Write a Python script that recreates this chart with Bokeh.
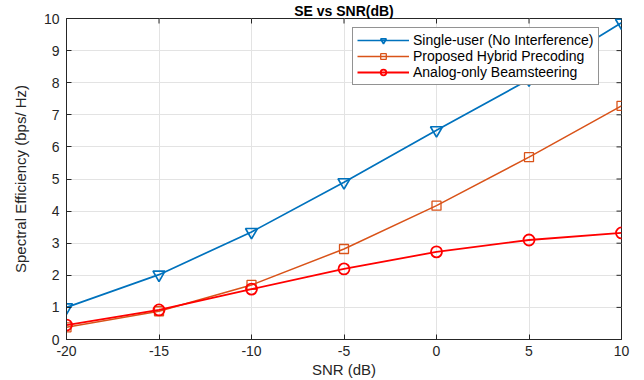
import math
from bokeh.plotting import figure
from bokeh.models import Range1d, Title
from bokeh.embed import file_html
from bokeh.resources import INLINE

snr = [-20, -15, -10, -5, 0, 5, 10]
single_user = [1.0, 2.02, 3.35, 4.9, 6.52, 8.1, 9.87]
hybrid = [0.38, 0.88, 1.7, 2.82, 4.17, 5.68, 7.28]
analog = [0.45, 0.92, 1.57, 2.2, 2.73, 3.1, 3.32]

x_ticks = [-20, -15, -10, -5, 0, 5, 10]
y_ticks = list(range(0, 11))

FONT = "Liberation Sans"
AXC = "#262626"

p = figure(width=644, height=380, output_backend="svg", toolbar_location=None,
           x_range=Range1d(-20, 10), y_range=Range1d(0, 10),
           min_border_left=66, min_border_right=23, min_border_bottom=0, min_border_top=0)
t = Title(text="SE vs SNR(dB)", align="center", text_font=FONT, text_font_size="14px",
          text_font_style="bold", text_color="#000000", standoff=0, offset=0)
p.add_layout(t, "above")

p.outline_line_color = AXC
p.outline_line_width = 1
p.background_fill_color = "white"
p.border_fill_color = "white"

for ax in (p.xaxis[0], p.yaxis[0]):
    ax.major_tick_in = 5
    ax.major_tick_out = 0
    ax.minor_tick_in = 0
    ax.minor_tick_out = 0
    ax.axis_line_color = AXC
    ax.major_tick_line_color = AXC
    ax.major_label_text_font = FONT
    ax.major_label_text_font_size = "14px"
    ax.major_label_text_color = AXC
    ax.axis_label_text_font = FONT
    ax.axis_label_text_font_size = "15px"
    ax.axis_label_text_font_style = "normal"
    ax.axis_label_text_color = AXC

p.xaxis[0].ticker = x_ticks
p.yaxis[0].ticker = y_ticks
p.xaxis[0].major_label_overrides = {v: str(v) for v in x_ticks}
p.xaxis[0].axis_label = "SNR (dB)"
p.yaxis[0].axis_label = "Spectral Efficiency (bps/ Hz)"
p.xaxis[0].major_label_standoff = 6
p.xaxis[0].axis_label_standoff = 2
p.yaxis[0].major_label_standoff = 7
p.yaxis[0].axis_label_standoff = 12

# inward tick marks on the top and right edges (box style)
p.ray(x=x_ticks, y=[10] * len(x_ticks), length=5, length_units="screen",
      angle=-math.pi / 2, line_color=AXC, line_width=1)
p.ray(x=[10] * len(y_ticks), y=y_ticks, length=5, length_units="screen",
      angle=math.pi, line_color=AXC, line_width=1)

p.xgrid.ticker = x_ticks
p.ygrid.ticker = y_ticks
p.grid.grid_line_color = "#e3e3e3"
p.grid.grid_line_width = 1

BLUE = "#0072BD"
ORANGE = "#D95319"
RED = "#FF0000"

p.line(snr, single_user, color=BLUE, line_width=1.7, legend_label="Single-user (No Interference)")
p.scatter(snr, single_user, marker="inverted_triangle", size=12, line_color=BLUE, fill_alpha=0,
          line_width=1.7, legend_label="Single-user (No Interference)")
p.line(snr, hybrid, color=ORANGE, line_width=1.5, legend_label="Proposed Hybrid Precoding")
p.scatter(snr, hybrid, marker="square", size=9, line_color=ORANGE, fill_alpha=0,
          line_width=1.3, legend_label="Proposed Hybrid Precoding")
p.line(snr, analog, color=RED, line_width=1.8, legend_label="Analog-only Beamsteering")
p.scatter(snr, analog, marker="circle", size=11, line_color=RED, fill_alpha=0,
          line_width=1.8, legend_label="Analog-only Beamsteering")

lg = p.legend[0]
lg.location = (286, 254)
lg.margin = 0
lg.padding = 4
lg.spacing = 0
lg.label_text_font = FONT
lg.label_text_font_size = "14px"
lg.label_text_color = "#000000"
lg.label_height = 14
lg.glyph_height = 14
lg.glyph_width = 52
lg.label_standoff = 4
lg.border_line_color = AXC
lg.border_line_width = 1
lg.background_fill_alpha = 1

open("out.html", "w").write(file_html(p, INLINE))
